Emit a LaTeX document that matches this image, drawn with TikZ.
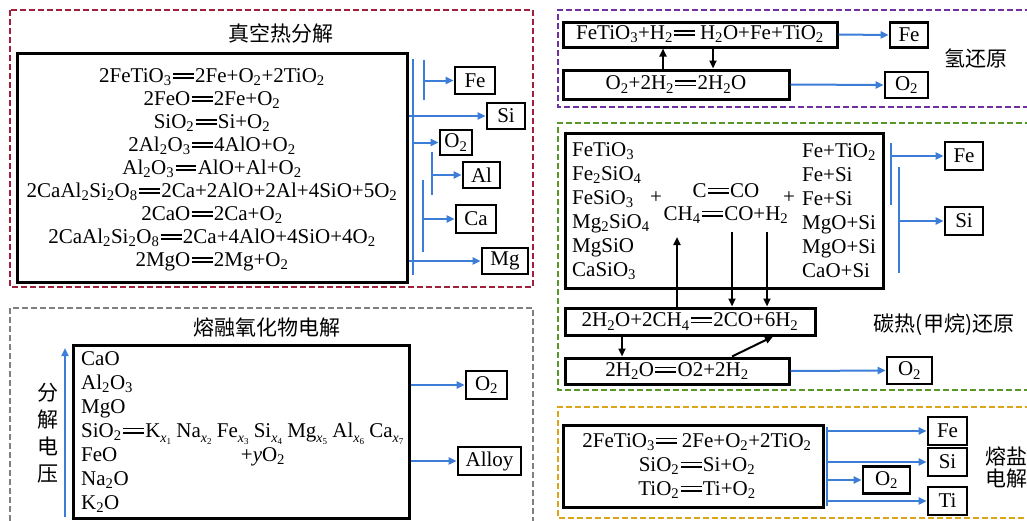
\documentclass[tikz,border=0pt]{standalone}
\usepackage{fontspec}
\setmainfont{Liberation Serif}
\newfontfamily\cjk{Noto Sans CJK SC}
\usetikzlibrary{arrows.meta}
\definecolor{cred}{RGB}{160,32,60}
\definecolor{cpur}{RGB}{112,48,160}
\definecolor{cgrn}{RGB}{88,150,40}
\definecolor{cgold}{RGB}{220,165,25}
\definecolor{cgray}{RGB}{128,128,128}
\definecolor{cblue}{RGB}{60,125,215}
\newcommand{\sbs}[1]{\textsubscript{#1}}
\newcommand{\xs}[1]{\raisebox{-0.24em}{\fontsize{14}{14}\selectfont\textit{x}\raisebox{-0.18em}{\fontsize{9}{9}\selectfont#1}}}
\newcommand{\deq}{\hbox{\kern0.06em\rlap{\raisebox{0.18em}{\rule{1em}{0.075em}}}\raisebox{0.38em}{\rule{1em}{0.075em}}\kern0.06em}}
\newcommand{\eqf}{\fontsize{21}{23}\selectfont}
\newcommand{\cjkf}{\cjk\fontsize{21}{23}\selectfont}
\tikzset{
 frame/.style={line width=2.2pt,dash pattern=on 6pt off 3pt},
 bigbox/.style={draw,line width=3pt,inner sep=0pt},
 tag/.style={draw,line width=2.6pt,inner sep=0pt,font=\eqf},
 eqtext/.style={font=\eqf,inner sep=0pt},
 cn/.style={font=\cjkf,inner sep=0pt},
 barr/.style={draw=cblue,line width=2pt,-{Triangle[length=8pt,width=7pt]}},
 bline/.style={draw=cblue,line width=2pt},
 karr/.style={draw=black,line width=2pt,-{Triangle[length=8pt,width=7pt]}},
}
\begin{document}
\begin{tikzpicture}[x=1pt,y=-1pt]
\useasboundingbox (0,0) rectangle (1027,520);
\clip (0,0) rectangle (1027,520);
% ---------------- top-left: vacuum thermal decomposition
\draw[frame,cred] (10,10) rectangle (533,287);
\node[cn] (t1) at (281,33) {真空热分解};
\node[bigbox,minimum width=390pt,minimum height=229pt] (tb) at (212,167.5) {};
\node[eqtext,align=center] (tleq) at (212,170) {2FeTiO\sbs3\deq2Fe+O\sbs2+2TiO\sbs2\\
2FeO\deq2Fe+O\sbs2\\
SiO\sbs2\deq Si+O\sbs2\\
2Al\sbs2O\sbs3\deq4AlO+O\sbs2\\
Al\sbs2O\sbs3\deq AlO+Al+O\sbs2\\
2CaAl\sbs2Si\sbs2O\sbs8\deq2Ca+2AlO+2Al+4SiO+5O\sbs2\\
2CaO\deq2Ca+O\sbs2\\
2CaAl\sbs2Si\sbs2O\sbs8\deq2Ca+4AlO+4SiO+4O\sbs2\\
2MgO\deq2Mg+O\sbs2};
\node[tag,minimum width=40pt,minimum height=27pt] (tfe) at (475,80.5) {Fe};
\node[tag,minimum width=38pt,minimum height=26pt] (tsi) at (506,116) {Si};
\node[tag,minimum width=32pt,minimum height=25pt] (to) at (456,142.5) {O\sbs2};
\node[tag,minimum width=37pt,minimum height=26pt] (tal) at (481.5,175) {Al};
\node[tag,minimum width=40pt,minimum height=28pt] (tca) at (476,219) {Ca};
\node[tag,minimum width=46pt,minimum height=26pt] (tmg) at (505,261) {Mg};
\coordinate (tv1a) at (413,59); \coordinate (tv1b) at (413,275);
\coordinate (tv2a) at (424,60); \coordinate (tv2b) at (424,100);
\coordinate (tv3a) at (432,152); \coordinate (tv3b) at (432,195);
\coordinate (tv4a) at (423,180); \coordinate (tv4b) at (423,252);
\draw[bline] (tv1a) -- (tv1b);
\draw[bline] (tv2a) -- (tv2b);
\draw[bline] (tv3a) -- (tv3b);
\draw[bline] (tv4a) -- (tv4b);
\draw[barr] (tfe.west -| tv2a) -- (tfe.west);
\draw[barr] (tb.east |- tsi.west) -- (tsi.west);
\draw[barr] (to.west -| tv1a) -- (to.west);
\draw[barr] (tal.west -| tv3a) -- (tal.west);
\draw[barr] (tca.west -| tv4a) -- (tca.west);
\draw[barr] (tb.east |- tmg.west) -- (tmg.west);
% ---------------- top-right: hydrogen reduction
\draw[frame,cpur] (1040,10) -- (558,10) -- (558,107) -- (1040,107);
\node[bigbox,eqtext,minimum width=274pt,minimum height=25pt] (h1) at (700,34.5) {FeTiO\sbs3+H\sbs2\deq\,H\sbs2O+Fe+TiO\sbs2};
\node[bigbox,eqtext,minimum width=226pt,minimum height=29pt] (h2) at (676,84.5) {O\sbs2+2H\sbs2\deq2H\sbs2O\hspace{12pt}};
\node[tag,minimum width=38pt,minimum height=25pt] (hfe) at (909,35) {Fe};
\node[tag,minimum width=43pt,minimum height=26pt] (ho) at (906.5,85) {O\sbs2};
\node[cn] (hl) at (976,58) {氢还原};
\draw[karr] ([xshift=-13pt]h2.north) -- ([xshift=-37pt]h1.south);
\draw[karr] ([xshift=13pt]h1.south) -- ([xshift=37pt]h2.north);
\draw[barr] (h1.east) -- (hfe.west);
\draw[barr] (h2.east) -- (ho.west);
% ---------------- middle-right: carbothermal (methane) reduction
\draw[frame,cgrn] (1040,123) -- (558,123) -- (558,390) -- (1040,390);
\node[bigbox,minimum width=318pt,minimum height=155pt] (cb) at (724,210.5) {};
\node[eqtext,align=left,font=\fontsize{21}{24}\selectfont,anchor=west] (cl) at (572,211) {FeTiO\sbs3\\ Fe\sbs2SiO\sbs4\\ FeSiO\sbs3\\ Mg\sbs2SiO\sbs4\\ MgSiO\\ CaSiO\sbs3};
\node[eqtext] (cp1) at (656,198) {+};
\node[eqtext,align=center] (cm) at (726,203.5) {C\deq CO\\ CH\sbs4\deq CO+H\sbs2};
\node[eqtext] (cp2) at (789,198) {+};
\node[eqtext,align=left,font=\fontsize{21}{24}\selectfont,anchor=west] (cr) at (802,211) {Fe+TiO\sbs2\\ Fe+Si\\ Fe+Si\\ MgO+Si\\ MgO+Si\\ CaO+Si};
\node[tag,minimum width=38pt,minimum height=28pt] (cfe) at (964,156) {Fe};
\node[tag,minimum width=38pt,minimum height=28pt] (csi) at (964,221) {Si};
\coordinate (cv1a) at (891,143); \coordinate (cv1b) at (891,205);
\coordinate (cv2a) at (899,167); \coordinate (cv2b) at (899,273);
\draw[bline] (cv1a) -- (cv1b);
\draw[bline] (cv2a) -- (cv2b);
\draw[barr] (cfe.west -| cv1a) -- (cfe.west);
\draw[barr] (csi.west -| cv2a) -- (csi.west);
\node[bigbox,eqtext,minimum width=250pt,minimum height=27pt] (c3) at (690,321.5) {2H\sbs2O+2CH\sbs4\deq2CO+6H\sbs2\hspace{16pt}};
\node[bigbox,eqtext,minimum width=224pt,minimum height=26pt] (c4) at (677,371) {2H\sbs2O\deq O2+2H\sbs2\hspace{10pt}};
\node[tag,minimum width=45pt,minimum height=27pt] (co) at (909.5,370.5) {O\sbs2};
\node[cn] (cll) at (944,325) {碳热(甲烷)还原};
\coordinate (cup) at (677,237);
\coordinate (cd1) at (732,232);
\coordinate (cd2) at (767,232);
\draw[karr] (c3.north -| cup) -- (cup);
\draw[karr] (cd1) -- (c3.north -| cd1);
\draw[karr] (cd2) -- (c3.north -| cd2);
\draw[karr] ([xshift=-68pt]c3.south) -- ([xshift=-55pt]c4.north);
\draw[karr] ([xshift=55pt]c4.north) -- ([xshift=83pt]c3.south);
\draw[barr] (c4.east) -- (co.west);
% ---------------- bottom-right: molten salt electrolysis
\draw[frame,cgold] (1040,407) -- (558,407) -- (558,518) -- (1040,518);
\node[bigbox,minimum width=260pt,minimum height=82pt] (mb) at (693,466) {};
\node[eqtext,align=center,font=\fontsize{21}{24}\selectfont] (mt) at (697,466) {2FeTiO\sbs3\deq\,2Fe+O\sbs2+2TiO\sbs2\\ SiO\sbs2\deq Si+O\sbs2\\ TiO\sbs2\deq Ti+O\sbs2};
\node[tag,minimum width=39pt,minimum height=28pt] (mfe) at (947.5,431) {Fe};
\node[tag,minimum width=39pt,minimum height=28pt] (msi) at (947.5,462) {Si};
\node[tag,minimum width=47pt,minimum height=27pt] (mo) at (886.5,480) {O\sbs2};
\node[tag,minimum width=39pt,minimum height=28pt] (mti) at (947.5,501) {Ti};
\coordinate (mv1) at (827,427); \coordinate (mv2) at (827,506);
\draw[bline] (mv1) -- (mv2);
\draw[barr] (mfe.west -| mv1) -- (mfe.west);
\draw[barr] (msi.west -| mv1) -- (msi.west);
\draw[barr] (mo.west -| mv1) -- (mo.west);
\draw[barr] (mti.west -| mv1) -- (mti.west);
\node[cn,align=left,anchor=west,font=\cjk\fontsize{21}{22}\selectfont] (ml) at (985,467) {熔盐\\电解};
% ---------------- bottom-left: molten oxide electrolysis
\draw[frame,cgray] (10,530) -- (10,308) -- (533,308) -- (533,530);
\node[cn] (gt) at (267,327) {熔融氧化物电解};
\node[bigbox,minimum width=336pt,minimum height=173pt] (gb) at (241,431.5) {};
\node[eqtext,align=left,font=\fontsize{21}{24}\selectfont,anchor=west] (gl) at (81,432) {CaO\\ Al\sbs2O\sbs3\\ MgO\\ SiO\sbs2\deq K\xs1 Na\xs2 Fe\xs3 Si\xs4 Mg\xs5 Al\xs6 Ca\xs7\\ FeO\\ Na\sbs2O\\ K\sbs2O};
\node[eqtext] (gy) at (263,457) {+\textit{y}O\sbs2};
\coordinate (gv1) at (65,517); \coordinate (gv2) at (65,348);
\draw[barr] (gv1) -- (gv2);
\node[cn,align=center,font=\cjk\fontsize{21}{27}\selectfont] (gvl) at (48,433) {分\\解\\电\\压};
\node[tag,minimum width=41pt,minimum height=28pt] (go) at (486.5,385) {O\sbs2};
\node[tag,minimum width=63pt,minimum height=28pt] (ga) at (489.5,461) {Alloy};
\draw[barr] (gb.east |- go.west) -- (go.west);
\draw[barr] (gb.east |- ga.west) -- (ga.west);
\end{tikzpicture}
\end{document}
